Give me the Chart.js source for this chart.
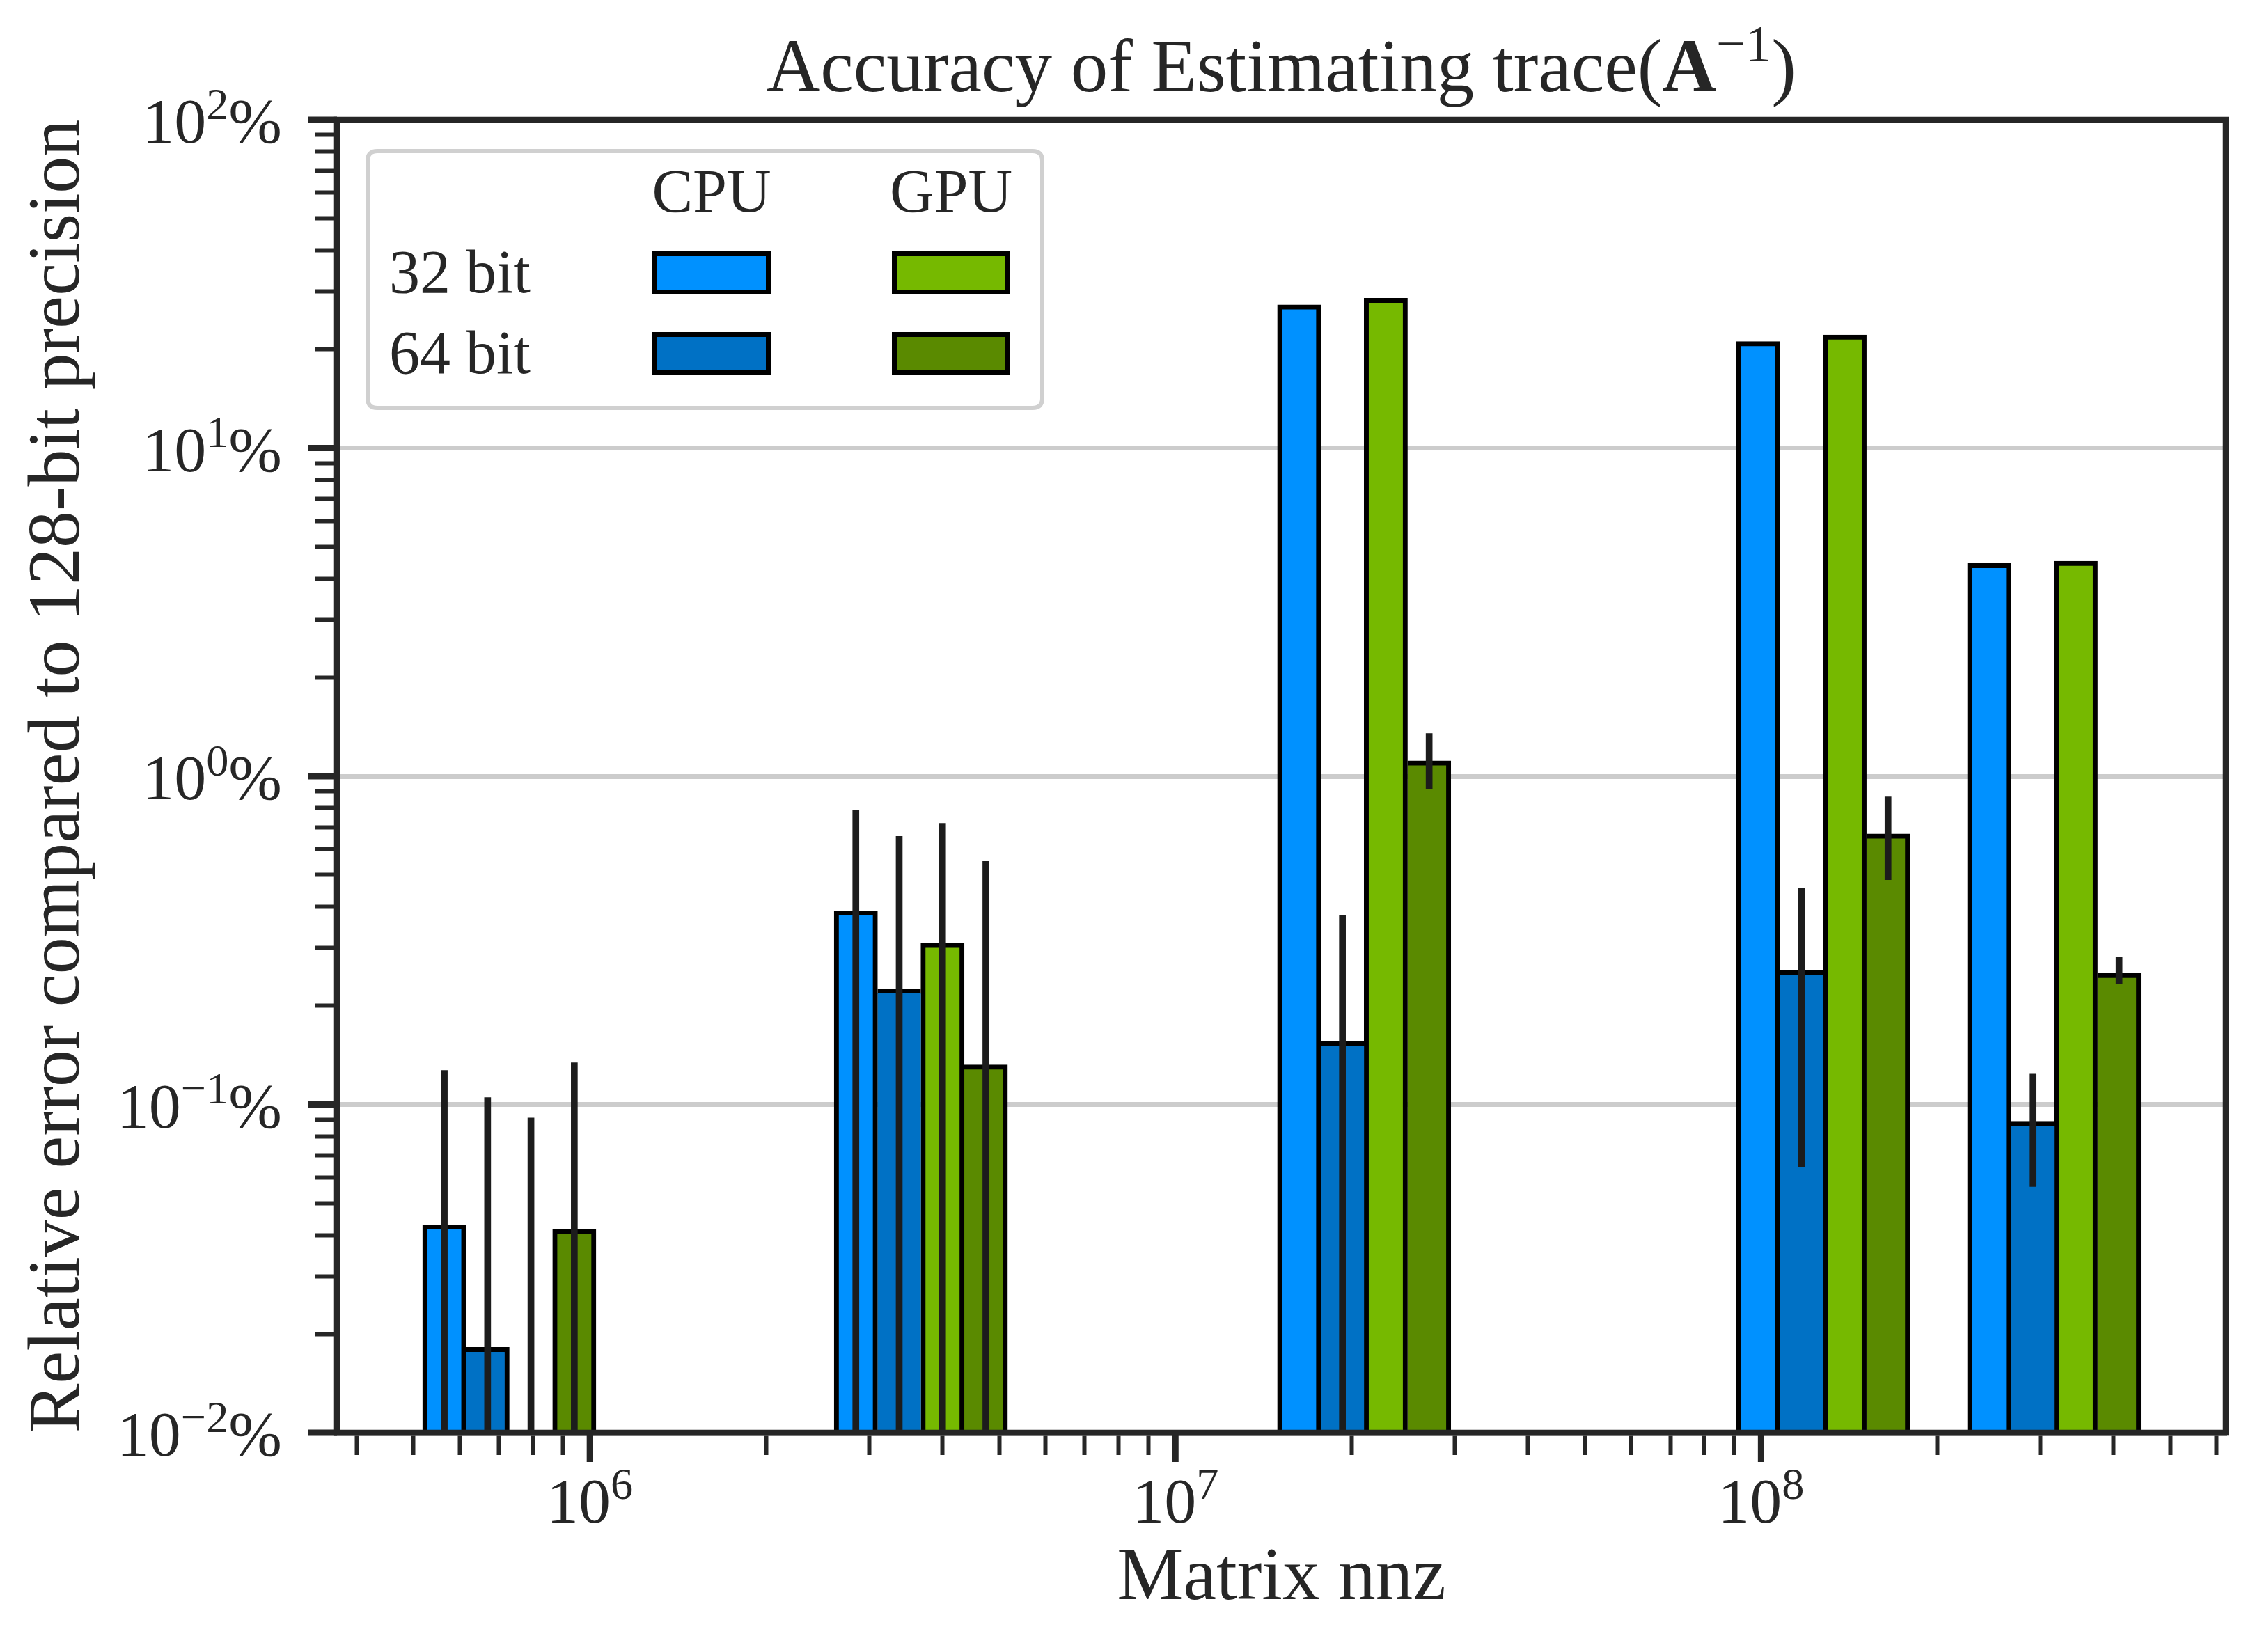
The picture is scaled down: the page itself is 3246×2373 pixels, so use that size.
<!DOCTYPE html>
<html>
<head>
<meta charset="utf-8">
<script src="https://cdn.jsdelivr.net/npm/chart.js@4.4.1/dist/chart.umd.min.js"></script>
<style>
html, body { margin: 0; padding: 0; background: #ffffff; }
#wrap { width: 3246px; height: 2373px; }
</style>
</head>
<body>
<div id="wrap"><canvas id="c" width="3246" height="2373"></canvas></div>
<script>
// ---------------- data ----------------
const groupNnz = [7.285e5, 3.675e6, 2.100e7, 1.276e8, 3.166e8];

const cpu32 = [0.0430, 0.389, 27.3, 21.1, 4.45];
const cpu64 = [0.0182, 0.225, 0.1555, 0.2565, 0.0889];
const gpu32 = [null, 0.310, 28.6, 22.1, 4.52];
const gpu64 = [0.0417, 0.132, 1.114, 0.667, 0.251];

// error bar ranges (low end below 1e-2 % runs off the axis)
const cpu32ErrLow  = [0.005, 0.005, null, null, null];
const cpu32ErrHigh = [0.127, 0.79, null, null, null];
const cpu64ErrLow  = [0.005, 0.005, 0.005, 0.0644, 0.0562];
const cpu64ErrHigh = [0.105, 0.656, 0.376, 0.457, 0.1237];
const gpu32ErrLow  = [0.005, 0.005, null, null, null];
const gpu32ErrHigh = [0.091, 0.719, null, null, null];
const gpu64ErrLow  = [0.005, 0.005, 0.914, 0.484, 0.2327];
const gpu64ErrHigh = [0.134, 0.550, 1.35, 0.866, 0.2807];

const seriesNames = ['CPU 32 bit', 'CPU 64 bit', 'GPU 32 bit', 'GPU 64 bit'];
const legendCols = ['CPU', 'GPU'];
const legendRows = ['32 bit', '64 bit'];
const xTickExp = [6, 7, 8];
const yTickExp = [-2, -1, 0, 1, 2];
const titleParts = ['Accuracy of Estimating trace(', 'A', '\u22121', ')'];
const xTitle = 'Matrix nnz';
const yTitle = 'Relative error compared to 128-bit precision';
const xMin = 3.70e5, xMax = 6.22e8;
const yMin = 0.01, yMax = 100;

// ---------------- style ----------------
const FONT = "'Liberation Serif', 'DejaVu Serif', serif";
const TEXT = '#262626';
const COLORS = ['#0091ff', '#0071c5', '#76b900', '#5a8a00'];
const ERR = '#1c1c1c';
const BW = 7;
const BAR_PX = 62.25;
const SPINE = 8.5;

const allSeries = [cpu32, cpu64, gpu32, gpu64];
const errLow = [cpu32ErrLow, cpu64ErrLow, gpu32ErrLow, gpu64ErrLow];
const errHigh = [cpu32ErrHigh, cpu64ErrHigh, gpu32ErrHigh, gpu64ErrHigh];

function barBorder(s) {
  return (c) => {
    const i = c.dataIndex;
    const me = allSeries[s][i];
    const L = s > 0 ? allSeries[s - 1][i] : null;
    const R = s < 3 ? allSeries[s + 1][i] : null;
    return {
      top: BW, bottom: 0,
      left: (L == null || me > L) ? BW : 0,
      right: (R == null || me >= R) ? BW : 0
    };
  };
}

const datasets = [];
for (let s = 0; s < 4; s++) {
  datasets.push({
    label: seriesNames[s] + ' error',
    data: groupNnz.map((x, i) => ({ x, y: errLow[s][i] == null ? null : [errLow[s][i], errHigh[s][i]] })),
    backgroundColor: ERR, borderWidth: 0,
    barThickness: BAR_PX, maxBarThickness: 9,
    stack: 's' + s, order: 0, clip: 0
  });
}
for (let s = 0; s < 4; s++) {
  datasets.push({
    label: seriesNames[s],
    data: groupNnz.map((x, i) => ({ x, y: allSeries[s][i] })),
    backgroundColor: COLORS[s], borderColor: '#000000',
    borderWidth: barBorder(s), borderSkipped: false,
    barThickness: BAR_PX,
    stack: 's' + s, order: 1, clip: 0
  });
}

function logTicks(lo, hi) {
  const out = [];
  for (let e = Math.floor(Math.log10(lo)); e <= Math.ceil(Math.log10(hi)); e++) {
    for (let m = 1; m <= 9; m++) {
      const v = m * Math.pow(10, e);
      if (v >= lo * 0.9999 && v <= hi * 1.0001) out.push({ value: v, major: m === 1 });
    }
  }
  return out;
}

function drawPow(ctx, base, exp, suffix, x, y, align, size) {
  const sup = size * 0.7;
  ctx.font = size + 'px ' + FONT;
  const wb = ctx.measureText(base).width;
  const ws = suffix ? ctx.measureText(suffix).width : 0;
  ctx.font = sup + 'px ' + FONT;
  const we = ctx.measureText(exp).width;
  const total = wb + we + ws;
  const x0 = align === 'center' ? x - total / 2 : (align === 'right' ? x - total : x);
  ctx.textAlign = 'left';
  ctx.textBaseline = 'alphabetic';
  ctx.font = size + 'px ' + FONT;
  ctx.fillText(base, x0, y);
  ctx.font = sup + 'px ' + FONT;
  ctx.fillText(exp, x0 + wb, y - size * 0.37);
  if (suffix) {
    ctx.font = size + 'px ' + FONT;
    ctx.fillText(suffix, x0 + wb + we, y);
  }
}

const decor = {
  id: 'decor',
  afterDraw(chart) {
    const ctx = chart.ctx;
    const a = chart.chartArea;
    const xs = chart.scales.x, ys = chart.scales.y;
    ctx.save();
    // frame
    ctx.strokeStyle = TEXT;
    ctx.lineWidth = SPINE;
    ctx.lineJoin = 'miter';
    ctx.strokeRect(a.left, a.top, a.right - a.left, a.bottom - a.top);
    // major ticks (longer)
    ctx.lineWidth = 9;
    ctx.lineCap = 'butt';
    xTickExp.forEach(e => {
      const px = xs.getPixelForValue(Math.pow(10, e));
      ctx.beginPath(); ctx.moveTo(px, a.bottom); ctx.lineTo(px, a.bottom + 42); ctx.stroke();
    });
    yTickExp.forEach(e => {
      const py = ys.getPixelForValue(Math.pow(10, e));
      ctx.beginPath(); ctx.moveTo(a.left, py); ctx.lineTo(a.left - 42, py); ctx.stroke();
    });
    // tick labels
    ctx.fillStyle = TEXT;
    xTickExp.forEach(e => drawPow(ctx, '10', String(e), '', xs.getPixelForValue(Math.pow(10, e)), 2187, 'center', 92));
    yTickExp.forEach(e => drawPow(ctx, '10', e < 0 ? '\u2212' + (-e) : String(e), '%', 405, ys.getPixelForValue(Math.pow(10, e)) + 33, 'right', 92));
    // title
    const TS = 107;
    const fonts = [TS + 'px ' + FONT, 'bold ' + TS + 'px ' + FONT, (TS * 0.7) + 'px ' + FONT, TS + 'px ' + FONT];
    const dys = [0, 0, -TS * 0.4, 0];
    let widths = titleParts.map((t, k) => { ctx.font = fonts[k]; return ctx.measureText(t).width; });
    let tw = widths.reduce((p, q) => p + q, 0);
    let tx = (a.left + a.right) / 2 - tw / 2;
    ctx.textAlign = 'left'; ctx.textBaseline = 'alphabetic';
    titleParts.forEach((t, k) => { ctx.font = fonts[k]; ctx.fillText(t, tx, 131 + dys[k]); tx += widths[k]; });
    // legend
    const LX = 528, LY = 217, LW = 969, LH = 369, R = 14;
    ctx.beginPath();
    ctx.moveTo(LX + R, LY);
    ctx.lineTo(LX + LW - R, LY); ctx.quadraticCurveTo(LX + LW, LY, LX + LW, LY + R);
    ctx.lineTo(LX + LW, LY + LH - R); ctx.quadraticCurveTo(LX + LW, LY + LH, LX + LW - R, LY + LH);
    ctx.lineTo(LX + R, LY + LH); ctx.quadraticCurveTo(LX, LY + LH, LX, LY + LH - R);
    ctx.lineTo(LX, LY + R); ctx.quadraticCurveTo(LX, LY, LX + R, LY);
    ctx.closePath();
    ctx.fillStyle = 'rgba(255,255,255,0.85)';
    ctx.fill();
    ctx.strokeStyle = '#d0d0d0'; ctx.lineWidth = 6;
    ctx.stroke();
    ctx.fillStyle = TEXT;
    ctx.font = '88px ' + FONT;
    const colX = [1022, 1366];
    const rowY = [392, 508];
    ctx.textAlign = 'center';
    legendCols.forEach((t, k) => ctx.fillText(t, colX[k], 304));
    ctx.textAlign = 'left';
    legendRows.forEach((t, k) => ctx.fillText(t, 559, rowY[k] + 28));
    ctx.lineWidth = BW; ctx.strokeStyle = '#000000';
    for (let c = 0; c < 2; c++) {
      for (let r = 0; r < 2; r++) {
        const s = c * 2 + r;
        ctx.fillStyle = COLORS[s];
        ctx.fillRect(colX[c] - 81.5, rowY[r] - 27.5, 163, 55);
        ctx.strokeRect(colX[c] - 81.5, rowY[r] - 27.5, 163, 55);
      }
    }
    ctx.restore();
  }
};

Chart.defaults.font.family = FONT;
Chart.defaults.color = TEXT;

new Chart(document.getElementById('c'), {
  type: 'bar',
  data: { datasets },
  options: {
    responsive: false,
    devicePixelRatio: 1,
    animation: false,
    layout: { padding: { top: 172, right: 49, left: 0, bottom: 0 } },
    plugins: { legend: { display: false }, tooltip: { enabled: false }, title: { display: false } },
    scales: {
      x: {
        type: 'logarithmic', min: xMin, max: xMax, offset: false,
        afterBuildTicks: (s) => { s.ticks = logTicks(xMin, xMax); },
        afterFit: (s) => { s.height = 315; },
        ticks: { display: false },
        grid: { display: true, offset: false, drawOnChartArea: false, drawTicks: true, tickLength: 32, tickWidth: 6, tickColor: TEXT },
        border: { display: true, color: TEXT, width: SPINE },
        title: { display: true, text: xTitle, color: TEXT, font: { size: 107, family: FONT }, padding: { top: 0, bottom: 40 } }
      },
      y: {
        type: 'logarithmic', min: yMin, max: yMax, stacked: false,
        afterBuildTicks: (s) => { s.ticks = logTicks(yMin, yMax); },
        afterFit: (s) => { s.width = 484; },
        ticks: { display: false },
        grid: {
          display: true, drawOnChartArea: true, drawTicks: true,
          color: (c) => (c.tick && c.tick.major) ? '#cccccc' : 'rgba(0,0,0,0)',
          lineWidth: 7, tickLength: 32, tickWidth: 6, tickColor: TEXT
        },
        border: { display: true, color: TEXT, width: SPINE },
        title: { display: true, text: yTitle, color: TEXT, font: { size: 106, family: FONT }, padding: { top: 22, bottom: 0 } }
      }
    }
  },
  plugins: [decor]
});
</script>
</body>
</html>
